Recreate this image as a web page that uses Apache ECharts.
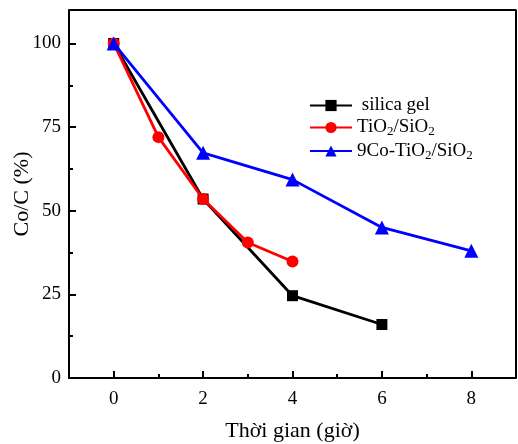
<!DOCTYPE html>
<html>
<head>
<meta charset="utf-8">
<script src="https://cdn.jsdelivr.net/npm/echarts@6/dist/echarts.min.js"></script>
<style>
  html, body { margin: 0; padding: 0; background: #fff; }
  #main { width: 518px; height: 444px; }
</style>
</head>
<body>
<div id="main"></div>
<script>
// du lieu doc tu hinh
var silicaX = [0, 2, 4, 6];
var silicaY = [100, 53.5, 24.6, 16];
var tioX = [0, 1, 2, 3, 4];
var tioY = [100, 72, 53.5, 40.5, 34.8];
var coX = [0, 2, 4, 6, 8];
var coY = [100, 67.3, 59.3, 45, 38];
var names = ["silica gel", "TiO2/SiO2", "9Co-TiO2/SiO2"];
var xMajor = [0, 2, 4, 6, 8];
var xMinor = [-1, 1, 3, 5, 7];
var yMajor = [0, 25, 50, 75, 100];
var yMinor = [12.5, 37.5, 62.5, 87.5];

function pairs(xs, ys) {
  var out = [];
  for (let i = 0; i < xs.length; i++) {
    out.push([xs[i], ys[i]]);
  }
  return out;
}

var font = "Liberation Serif";
var myChart = echarts.init(document.getElementById("main"));
var option = {
  animation: false,
  textStyle: { fontFamily: font },
  grid: { left: 69, top: 10, right: 2, bottom: 66, outerBoundsMode: "none", containLabel: false },
  legend: {
    orient: "vertical",
    left: 304,
    top: 91,
    itemWidth: 42,
    itemHeight: 14,
    itemGap: 3,
    data: names,
    formatter: function(name) {
      if (name == "TiO2/SiO2") {
        return "{n|TiO}{s|2}{n|/SiO}{s|2}";
      }
      if (name == "9Co-TiO2/SiO2") {
        return "{n|9Co-TiO}{s|2}{n|/SiO}{s|2}";
      }
      return "{n| silica gel}";
    },
    textStyle: {
      rich: {
        n: { fontFamily: font, fontSize: 19, color: "#000" },
        s: { fontFamily: font, fontSize: 13, color: "#000", padding: [9, 0, 0, 0] }
      }
    }
  },
  xAxis: [
    {
      type: "value",
      min: -1,
      max: 9,
      name: "Thời gian (giờ)",
      nameLocation: "middle",
      nameGap: 42,
      nameMoveOverlap: false,
      nameTextStyle: { fontFamily: font, fontSize: 22, color: "#000" },
      axisLine: { onZero: false, lineStyle: { color: "#000", width: 2 } },
      axisTick: { inside: true, length: 7, lineStyle: { width: 2 }, customValues: xMajor },
      axisLabel: { fontFamily: font, fontSize: 19, color: "#000", margin: 12, customValues: xMajor },
      splitLine: { show: false }
    },
    {
      // vach phu
      type: "value",
      min: -1,
      max: 9,
      position: "bottom",
      axisLine: { show: false, onZero: false },
      axisTick: { inside: true, length: 4, lineStyle: { width: 2, color: "#000" }, customValues: xMinor },
      axisLabel: { show: false },
      splitLine: { show: false }
    }
  ],
  yAxis: [
    {
      type: "value",
      min: 0,
      max: 110,
      name: "Co/C (%)",
      nameLocation: "middle",
      nameGap: 36,
      nameMoveOverlap: false,
      nameTextStyle: { fontFamily: font, fontSize: 22, color: "#000" },
      axisLine: { onZero: false, lineStyle: { color: "#000", width: 2 } },
      axisTick: { inside: true, length: 7, lineStyle: { width: 2 }, customValues: yMajor },
      axisLabel: { fontFamily: font, fontSize: 19, color: "#000", margin: 8, customValues: yMajor },
      splitLine: { show: false }
    },
    {
      type: "value",
      min: 0,
      max: 110,
      position: "left",
      axisLine: { show: false, onZero: false },
      axisTick: { inside: true, length: 4, lineStyle: { width: 2, color: "#000" }, customValues: yMinor },
      axisLabel: { show: false },
      splitLine: { show: false }
    }
  ],
  series: [
    {
      name: names[0],
      type: "line",
      data: pairs(silicaX, silicaY),
      symbol: "rect",
      symbolSize: 11,
      color: "#000",
      lineStyle: { width: 2.8 },
      z: 3
    },
    {
      name: names[1],
      type: "line",
      data: pairs(tioX, tioY),
      symbol: "circle",
      symbolSize: 12,
      color: "#ff0000",
      lineStyle: { width: 2.8 },
      z: 4
    },
    {
      name: names[2],
      type: "line",
      data: pairs(coX, coY),
      symbol: "triangle",
      symbolSize: 14,
      color: "#0000ff",
      lineStyle: { width: 2.8 },
      z: 5
    },
    {
      // khung tren + phai
      type: "line",
      data: [[-1, 110], [9, 110], [9, 0]],
      symbol: "none",
      silent: true,
      lineStyle: { color: "#000", width: 2 },
      z: 1
    }
  ]
};
myChart.setOption(option);
</script>
</body>
</html>
